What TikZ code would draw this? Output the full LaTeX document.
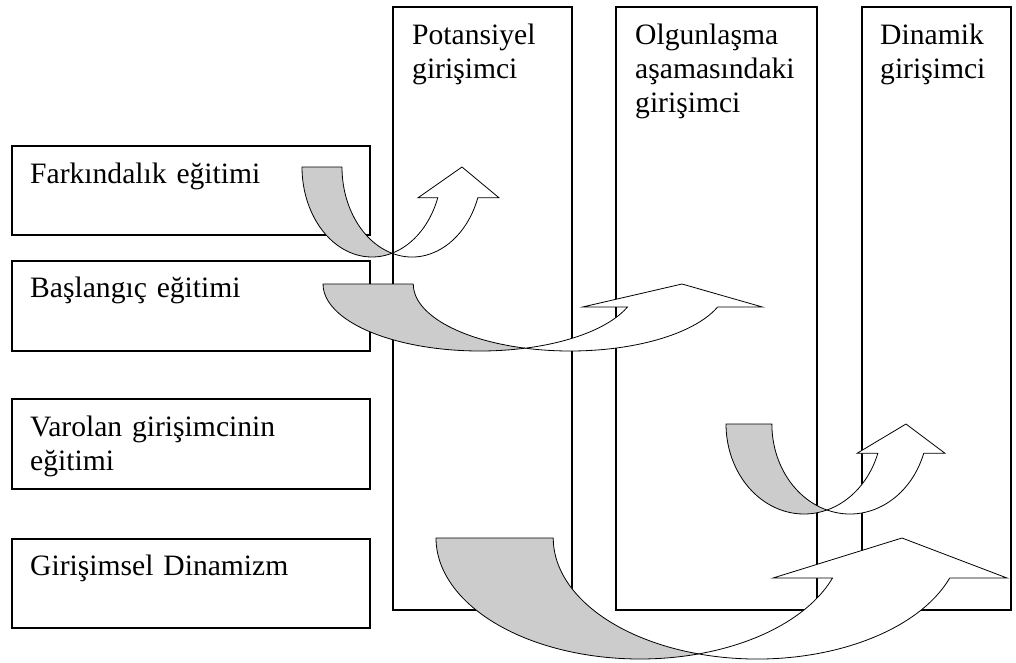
\documentclass[tikz,border=0pt]{standalone}
\usepackage{fontspec}
\setmainfont{Liberation Serif}
\tikzstyle{frame}=[draw, line width=1.5pt, inner sep=0pt, anchor=north west]
\tikzstyle{lbl}=[font={\fontsize{29.6}{34}\selectfont}, text width=330, align=left, inner sep=0pt, anchor=base west]
\tikzstyle{back}=[fill=black!20, draw, line width=0.8pt, line join=round]
\tikzstyle{front}=[fill=white, draw, line width=0.8pt, line join=miter]

\begin{document}
\begin{tikzpicture}[x=1pt, y=-1pt]
\useasboundingbox (0,0) rectangle (1016,662);
% Stages
    \node[frame, minimum width=179, minimum height=603] (potansiyel) at (392,6) {};
    \node[frame, minimum width=201, minimum height=603] (olgunlasma) at (615,6) {};
    \node[frame, minimum width=149, minimum height=603] (dinamik) at (861,6) {};
    \node[lbl, text width=170] (potansiyel-t) at ([shift={(20,38)}]potansiyel.north west) {Potansiyel\\girişimci};
    \node[lbl, text width=190] (olgunlasma-t) at ([shift={(20,38)}]olgunlasma.north west) {Olgunlaşma\\aşamasındaki\\girişimci};
    \node[lbl, text width=140] (dinamik-t) at ([shift={(19,38)}]dinamik.north west) {Dinamik\\girişimci};
% Trainings
    \node[frame, minimum width=358, minimum height=89] (farkindalik) at (11,145) {};
    \node[frame, minimum width=358, minimum height=90] (baslangic) at (11,260) {};
    \node[frame, minimum width=358, minimum height=90] (varolan) at (11,398) {};
    \node[frame, minimum width=358, minimum height=89] (dinamizm) at (11,538) {};
    \node[lbl] (farkindalik-t) at ([shift={(19,38)}]farkindalik.north west) {Farkındalık eğitimi};
    \node[lbl] (baslangic-t) at ([shift={(19,37)}]baslangic.north west) {Başlangıç eğitimi};
    \node[lbl] (varolan-t) at ([shift={(19,38)}]varolan.north west) {Varolan girişimcinin\\eğitimi};
    \node[lbl] (dinamizm-t) at ([shift={(19,37)}]dinamizm.north west) {Girişimsel Dinamizm};
% Curved arrows: grey back, white front
    \filldraw[back] (302,167) arc[start angle=180, end angle=73.4, x radius=70, y radius=90]
        arc[start angle=106.6, end angle=180, x radius=70, y radius=90] -- cycle;
    \filldraw[front] (392,253.2) arc[start angle=73.4, end angle=20, x radius=70, y radius=90]
        -- (418,197.8) -- (462,167) -- (499,197.8) -- (477.8,197.8)
        arc[start angle=20, end angle=106.6, x radius=70, y radius=90] -- cycle;
    \filldraw[back] (323,284) arc[start angle=180, end angle=73.3, x radius=157, y radius=67]
        arc[start angle=106.7, end angle=180, x radius=157, y radius=67] -- cycle;
    \filldraw[front] (525.1,348.2) arc[start angle=73.3, end angle=20, x radius=157, y radius=67]
        -- (583,306.9) -- (682,284) -- (762,306.9) -- (717.7,306.9)
        arc[start angle=20, end angle=106.7, x radius=157, y radius=67] -- cycle;
    \filldraw[back] (726,424) arc[start angle=180, end angle=72.9, x radius=78, y radius=90]
        arc[start angle=107.1, end angle=180, x radius=78, y radius=90] -- cycle;
    \filldraw[front] (827,510) arc[start angle=72.9, end angle=19, x radius=78, y radius=90]
        -- (857,453.3) -- (906,424) -- (945,453.3) -- (923.7,453.3)
        arc[start angle=19, end angle=107.1, x radius=78, y radius=90] -- cycle;
    \filldraw[back] (436,538) arc[start angle=180, end angle=73.3, x radius=204, y radius=121]
        arc[start angle=106.7, end angle=180, x radius=204, y radius=121] -- cycle;
    \filldraw[front] (698.6,653.9) arc[start angle=73.3, end angle=19.3, x radius=204, y radius=121]
        -- (773,578) -- (902,538) -- (1007,578) -- (949.7,578)
        arc[start angle=19.3, end angle=106.7, x radius=204, y radius=121] -- cycle;
\end{tikzpicture}
\end{document}
